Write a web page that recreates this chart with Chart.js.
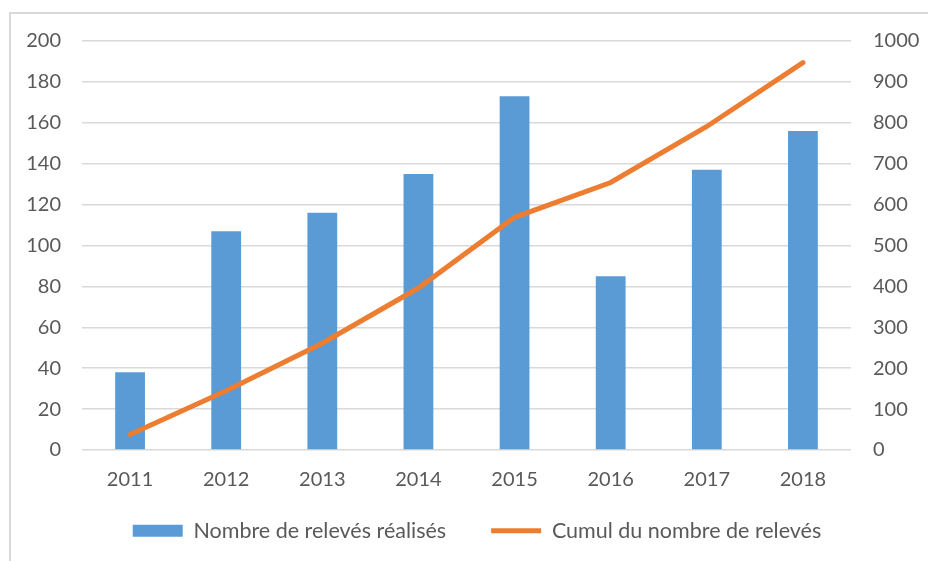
<!DOCTYPE html>
<html>
<head>
<meta charset="utf-8">
<script src="https://cdn.jsdelivr.net/npm/chart.js@4"></script>
<style>
  html, body { margin: 0; padding: 0; background: #fff; overflow: hidden; }
  #frame { position: absolute; left: 9px; top: 12px; width: 1000px; height: 600px; border: 2px solid #d9d9d9; box-sizing: border-box; }
  #wrap { position: absolute; left: 0; top: 0; width: 928px; height: 561px; }
</style>
</head>
<body>
<div id="frame"></div>
<div id="wrap"><canvas id="result"></canvas></div>
<script>
const years = ['2011', '2012', '2013', '2014', '2015', '2016', '2017', '2018']
const releves = [38, 107, 116, 135, 173, 85, 137, 156]
const cumul = [38, 145, 261, 396, 569, 654, 791, 947]

const textColor = '#595959'
const font = { family: 'Lato', size: 20 }

// legend padding is big (for the gap between items), so pull the legend back up
// and nudge it right like in the original
const moveLegend = {
  id: 'moveLegend',
  afterLayout(chart) {
    const lg = chart.legend
    lg.top -= 22
    lg.bottom -= 22
    lg.left += 13
    lg.right += 13
  }
}

const ctx = document.getElementById('result').getContext('2d')
new Chart(ctx, {
  type: 'bar',
  data: {
    labels: years,
    datasets: [
      {
        type: 'line',
        label: 'Cumul du nombre de relevés',
        data: cumul,
        yAxisID: 'y2',
        borderColor: '#ed7d31',
        backgroundColor: '#ed7d31',
        borderWidth: 5,
        borderCapStyle: 'round',
        pointRadius: 0,
        pointStyle: 'line',
        order: 0
      },
      {
        label: 'Nombre de relevés réalisés',
        data: releves,
        yAxisID: 'y',
        backgroundColor: '#5b9bd5',
        categoryPercentage: 1,
        barPercentage: 0.31,
        pointStyle: 'rect',
        order: 1
      }
    ]
  },
  plugins: [moveLegend],
  options: {
    responsive: true,
    maintainAspectRatio: false,
    animation: false,
    layout: { padding: { top: 41, left: 0, right: 0, bottom: -12.5 } },
    plugins: {
      tooltip: { enabled: false },
      legend: {
        position: 'bottom',
        reverse: true,
        labels: {
          color: textColor,
          font: { family: 'Lato', size: 21.5 },
          usePointStyle: true,
          pointStyleWidth: 50,
          boxHeight: 12,
          padding: 45
        }
      }
    },
    scales: {
      x: {
        grid: { display: false },
        border: { display: false },
        ticks: { color: textColor, font, padding: 10 },
        afterFit: (s) => { s.height = 47 }
      },
      y: {
        position: 'left',
        min: 0,
        max: 200,
        ticks: { stepSize: 20, color: textColor, font, padding: 21 },
        grid: { color: '#d9d9d9', lineWidth: 1.5, drawTicks: false },
        border: { display: false },
        afterFit: (s) => { s.width = 82 }
      },
      y2: {
        position: 'right',
        min: 0,
        max: 1000,
        ticks: { stepSize: 100, color: textColor, font, padding: 22, callback: (v) => String(v) },
        grid: { display: false, drawTicks: false },
        border: { display: false },
        afterFit: (s) => { s.width = 77 }
      }
    }
  }
})
</script>
</body>
</html>
